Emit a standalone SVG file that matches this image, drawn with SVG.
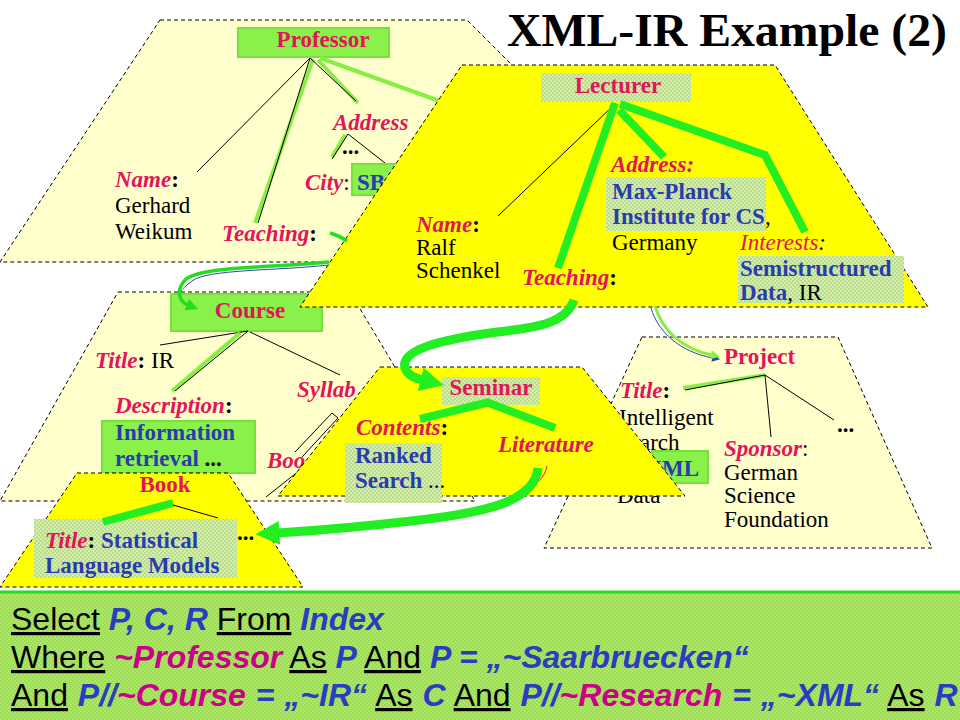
<svg xmlns="http://www.w3.org/2000/svg" width="960" height="720" viewBox="0 0 960 720">
<defs>
<style>
.pl{fill:#FFFFCC;stroke:#000;stroke-width:1;stroke-dasharray:4 3}
.py{fill:#FFFF00;stroke:#000;stroke-width:1;stroke-dasharray:4 3}
.gb{fill:#8AF04A;stroke:#74E23C;stroke-width:2}
.cb{fill:url(#chk)}
.s{font-family:"Liberation Serif","Times New Roman",serif;font-size:23px}
.bd{font-weight:bold}
.it{font-style:italic}
.r{fill:#E3145C}
.bl{fill:#2A3AB0}
.k{fill:#000}
.ln{stroke:#000;stroke-width:1;fill:none}
.lg{stroke:#88EE44;stroke-width:4;fill:none}
.tg{stroke:#22EE22;stroke-width:8;fill:none}
.q{font-family:"Liberation Sans",Arial,sans-serif;font-size:32px}
.u{text-decoration:underline;fill:#000}
.qb{fill:#2A3CC0;font-weight:bold;font-style:italic}
.qm{fill:#CC0088;font-weight:bold;font-style:italic}
</style>
<pattern id="chk" width="4" height="4" patternUnits="userSpaceOnUse">
<rect width="4" height="4" fill="#D6EEA6"/>
<rect width="2" height="2" fill="#B8DC94"/>
<rect x="2" y="2" width="2" height="2" fill="#B8DC94"/>
</pattern>
<pattern id="qchk" width="4" height="4" patternUnits="userSpaceOnUse">
<rect width="4" height="4" fill="#AEE668"/>
<rect width="2" height="2" fill="#9CDC56"/>
<rect x="2" y="2" width="2" height="2" fill="#9CDC56"/>
</pattern>
<marker id="mBig" viewBox="0 0 10 10" refX="1" refY="5" markerWidth="24" markerHeight="26" markerUnits="userSpaceOnUse" orient="auto"><path d="M0,0 L10,5 L0,10 z" fill="#22EE22"/></marker>
<marker id="mSm" viewBox="0 0 10 10" refX="1" refY="5" markerWidth="13" markerHeight="12" markerUnits="userSpaceOnUse" orient="auto"><path d="M0,0 L10,5 L0,10 z" fill="#22DD22"/></marker>
<marker id="mTiny" viewBox="0 0 10 10" refX="1" refY="5" markerWidth="10" markerHeight="9" markerUnits="userSpaceOnUse" orient="auto"><path d="M0,0 L10,5 L0,10 z" fill="#88EE44"/></marker>
<marker id="mTinyB" viewBox="0 0 10 10" refX="1" refY="5" markerWidth="9" markerHeight="8" markerUnits="userSpaceOnUse" orient="auto"><path d="M0,0 L10,5 L0,10 z" fill="#3344AA"/></marker>
</defs>
<rect width="960" height="720" fill="#fff"/>

<text x="507" y="46" font-family="'Liberation Serif','Times New Roman',serif" font-size="47" font-weight="bold" fill="#000" textLength="440" lengthAdjust="spacingAndGlyphs">XML-IR Example (2)</text>

<g id="professor">
<polygon class="pl" points="160,20 467,20 709,262 0,262"/>
<rect class="gb" x="238" y="28" width="151" height="29"/>
<text x="323" y="47" text-anchor="middle" class="s bd r">Professor</text>
<line class="ln" x1="310" y1="58" x2="197" y2="172"/>
<line class="lg" x1="313" y1="59" x2="255" y2="223"/>
<line class="ln" x1="310" y1="58" x2="258" y2="223"/>
<line class="lg" x1="318" y1="60" x2="358" y2="103"/>
<line class="ln" x1="310" y1="58" x2="356" y2="101"/>
<line class="lg" x1="320" y1="58" x2="470" y2="112"/>
<text x="333" y="130" class="s bd it r">Address</text>
<line class="lg" x1="345" y1="135" x2="332" y2="157"/>
<line class="ln" x1="348" y1="134" x2="332" y2="159"/>
<line class="ln" x1="348" y1="134" x2="385" y2="163"/>
<text x="342" y="154" class="s bd k">...</text>
<text x="305" y="190" class="s bd it r">City<tspan class="k" font-style="normal" font-weight="normal">:</tspan></text>
<rect class="gb" x="352" y="164" width="70" height="31"/>
<text x="357" y="190" class="s bd bl">SB</text>
<text x="115" y="187" class="s bd it r">Name<tspan class="k" font-style="normal">:</tspan></text>
<text x="115" y="213" class="s k">Gerhard</text>
<text x="115" y="239" class="s k">Weikum</text>
<text x="222" y="241" class="s bd it r">Teaching<tspan class="k" font-style="normal">:</tspan></text>
</g>

<g id="course">
<polygon class="pl" points="118,292 350,292 475,501 0,501"/>
<rect class="gb" x="171" y="294" width="151" height="37"/>
<text x="250" y="318" text-anchor="middle" class="s bd r">Course</text>
<line class="ln" x1="248" y1="331" x2="160" y2="345"/>
<line class="lg" x1="240" y1="333" x2="172" y2="391"/>
<line class="ln" x1="248" y1="331" x2="175" y2="391"/>
<line class="ln" x1="250" y1="332" x2="340" y2="375"/>
<text x="95" y="368" class="s bd it r">Title<tspan class="k" font-style="normal">:</tspan><tspan class="k" font-style="normal" font-weight="normal"> IR</tspan></text>
<text x="297" y="397" class="s bd it r">Syllab</text>
<line class="ln" x1="332" y1="413" x2="295" y2="452"/>
<line class="ln" x1="332" y1="413" x2="338" y2="418"/>
<line class="ln" x1="338" y1="418" x2="302" y2="457"/>
<line class="ln" x1="300" y1="470" x2="266" y2="497"/>
<text x="115" y="413" class="s bd it r">Description<tspan class="k" font-style="normal">:</tspan></text>
<rect class="gb" x="102" y="421" width="153" height="52"/>
<text x="115" y="440" class="s bd bl">Information</text>
<text x="115" y="466" class="s bd bl">retrieval<tspan class="k"> ...</tspan></text>
<text x="267" y="468" class="s bd it r">Boo</text>
</g>

<g id="project">
<polygon class="pl" points="642,337 838,337 932,548 544,548"/>
<text x="724" y="364" class="s bd r">Project</text>
<line class="lg" x1="765" y1="375" x2="683" y2="388"/>
<line class="ln" x1="765" y1="375" x2="685" y2="390"/>
<line class="ln" x1="765" y1="375" x2="771" y2="437"/>
<line class="ln" x1="765" y1="375" x2="834" y2="420"/>
<text x="620" y="398" class="s bd it r">Title<tspan class="k" font-style="normal">:</tspan></text>
<text x="619" y="425" class="s k">Intelligent</text>
<text x="617" y="450" class="s k">Search</text>
<rect class="gb" x="652" y="451" width="56" height="32"/>
<text x="699" y="476" text-anchor="end" class="s bd bl">XML</text>
<text x="617" y="503" class="s k">Data</text>
<text x="837" y="432" class="s bd k">...</text>
<text x="724" y="456" class="s bd it r">Sponsor<tspan class="k" font-style="normal" font-weight="normal">:</tspan></text>
<text x="724" y="480" class="s k">German</text>
<text x="724" y="503" class="s k">Science</text>
<text x="724" y="527" class="s k">Foundation</text>
</g>

<g id="book">
<polygon class="py" points="77,473 228,473 303,587 0,587"/>
<text x="165" y="492" text-anchor="middle" class="s bd r">Book</text>
<rect class="cb" x="34" y="519" width="203" height="59"/>
<line class="tg" x1="173" y1="503" x2="103" y2="522"/>
<line class="ln" x1="173" y1="505" x2="218" y2="518"/>
<text x="237" y="540" class="s bd k">...</text>
<text x="45" y="548" class="s bd it r">Title<tspan class="k" font-style="normal">: </tspan><tspan class="bl" font-style="normal">Statistical</tspan></text>
<text x="45" y="573" class="s bd bl">Language Models</text>
</g>

<g id="lecturer">
<polygon class="py" points="462,65 775,65 928,307 300,307"/>
<rect class="cb" x="541" y="73" width="150" height="29"/>
<text x="618" y="93" text-anchor="middle" class="s bd r">Lecturer</text>
<line class="ln" x1="616" y1="103" x2="498" y2="216"/>
<line class="tg" x1="615" y1="103" x2="558" y2="268"/>
<line class="tg" x1="619" y1="110" x2="664" y2="157"/>
<polyline class="tg" points="620,104 765,155 805,232"/>
<text x="611" y="172" class="s bd it r">Address:</text>
<rect class="cb" x="606" y="177" width="160" height="54"/>
<text x="612" y="199" class="s bd bl">Max-Planck</text>
<text x="612" y="224" class="s bd bl">Institute for CS<tspan class="k" font-weight="normal">,</tspan></text>
<text x="612" y="250" class="s k">Germany</text>
<rect class="cb" x="738" y="256" width="166" height="47"/>
<text x="740" y="250" class="s it r">Interests<tspan class="k">:</tspan></text>
<text x="740" y="276" class="s bd bl">Semistructured</text>
<text x="740" y="300" class="s bd bl">Data<tspan class="k" font-weight="normal">, IR</tspan></text>
<text x="416" y="232" class="s bd it r">Name<tspan class="k" font-style="normal">:</tspan></text>
<text x="416" y="255" class="s k">Ralf</text>
<text x="416" y="278" class="s k">Schenkel</text>
<text x="522" y="285" class="s bd it r">Teaching<tspan class="k" font-style="normal">:</tspan></text>
</g>

<g id="seminar">
<polygon class="py" points="380,367 582,367 685,496 278,496"/>
<rect class="cb" x="442" y="377" width="98" height="28"/>
<text x="491" y="395" text-anchor="middle" class="s bd r">Seminar</text>
<line class="tg" x1="490" y1="402" x2="420" y2="419"/>
<line class="tg" x1="486" y1="402" x2="555" y2="428"/>
<text x="356" y="435" class="s bd it r">Contents<tspan class="k" font-style="normal">:</tspan></text>
<rect class="cb" x="345" y="443" width="97" height="60"/>
<text x="355" y="463" class="s bd bl">Ranked</text>
<text x="355" y="488" class="s bd bl">Search<tspan class="k" font-weight="normal"> ...</tspan></text>
<text x="498" y="452" class="s bd it r">Literature</text>
</g>

<g id="connectors">
<path d="M330,233 Q340,236 347,241" stroke="#22DD22" stroke-width="3.5" fill="none"/>
<path d="M329,265 C 275,271 208,269 192,281 C 183,288 181,291 181,291" stroke="#3344AA" stroke-width="1" fill="none"/>
<path d="M329,262 C 270,268 205,266 186,279 C 176,289 178,301 188,305" stroke="#22DD22" stroke-width="3.5" fill="none" marker-end="url(#mSm)"/>
<path d="M574,300 C 565,326 530,328 490,333 C 440,340 400,350 405,368 C 408,376 415,378 423,380" stroke="#22EE22" stroke-width="9" fill="none" marker-end="url(#mBig)"/>
<path d="M651,308 C 658,332 680,352 713,358" stroke="#3344AA" stroke-width="1" fill="none" marker-end="url(#mTinyB)"/>
<path d="M655,306 C 662,330 682,349 712,355" stroke="#88EE44" stroke-width="3" fill="none" marker-end="url(#mTiny)"/>
<path d="M547,466 C 545,478 535,486 522,490" stroke="#E3145C" stroke-width="1" fill="none"/>
<path d="M538,468 C 535,500 490,512 420,520 C 360,527 310,531 277,533" stroke="#22EE22" stroke-width="9" fill="none" marker-end="url(#mBig)"/>
</g>

<g id="query">
<rect x="0" y="592" width="960" height="128" fill="url(#qchk)"/>
<line x1="0" y1="592" x2="960" y2="592" stroke="#22DD22" stroke-width="3"/>
<text x="11" y="630" class="q"><tspan class="u">Select</tspan> <tspan class="qb">P, C, R</tspan> <tspan class="u">From</tspan> <tspan class="qb">Index</tspan></text>
<text x="11" y="668" class="q"><tspan class="u">Where</tspan> <tspan class="qm">~Professor</tspan> <tspan class="u">As</tspan> <tspan class="qb">P</tspan> <tspan class="u">And</tspan> <tspan class="qb">P = „~Saarbruecken“</tspan></text>
<text x="11" y="706" class="q" word-spacing="1"><tspan class="u">And</tspan> <tspan class="qb">P//</tspan><tspan class="qm">~Course</tspan><tspan class="qb"> = „~IR“</tspan> <tspan class="u">As</tspan> <tspan class="qb">C</tspan> <tspan class="u">And</tspan> <tspan class="qb">P//</tspan><tspan class="qm">~Research</tspan><tspan class="qb"> = „~XML“</tspan> <tspan class="u">As</tspan> <tspan class="qb">R</tspan></text>
</g>
</svg>
